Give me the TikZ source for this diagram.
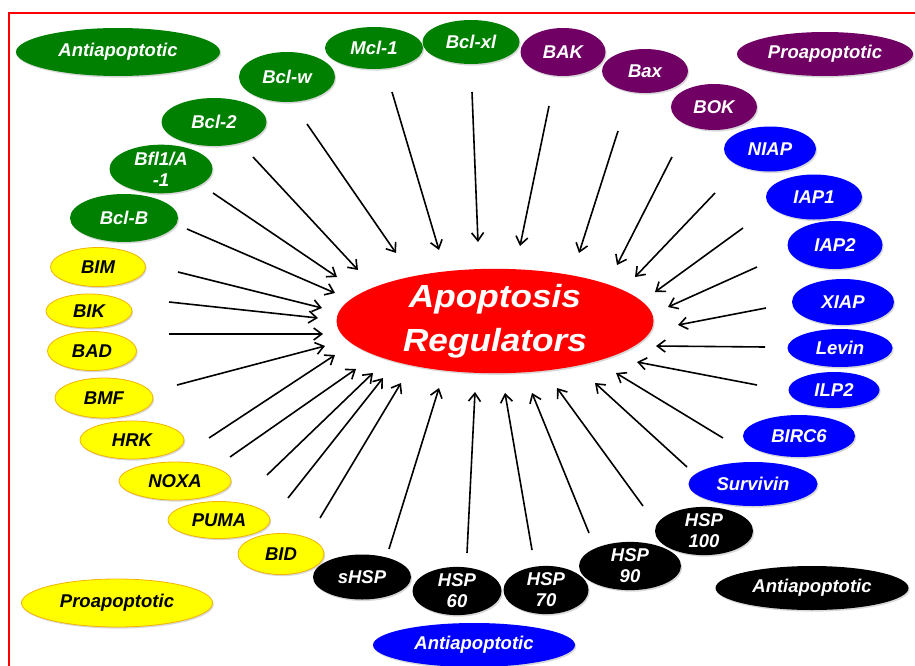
\documentclass[tikz,border=0pt]{standalone}
\usepackage{fontspec}
\usepackage{graphicx}
\setmainfont{Liberation Sans}
\usetikzlibrary{shapes.geometric,arrows.meta,shadows}
\definecolor{gr}{RGB}{0,128,0}
\definecolor{pu}{RGB}{112,0,100}
\definecolor{bl}{RGB}{0,0,255}
\definecolor{ye}{RGB}{255,255,0}
\definecolor{yb}{RGB}{240,180,0}
\definecolor{rd}{RGB}{255,0,0}
\begin{document}
\begin{tikzpicture}[x=1pt,y=-1pt,
  ell/.style={ellipse,inner sep=0pt,align=center,
    font=\bfseries\itshape\fontsize{18.5}{21}\selectfont,
    drop shadow={shadow xshift=1.2pt,shadow yshift=-1.6pt,opacity=0.3}},
  gn/.style={ell,fill=gr,text=white},
  pp/.style={ell,fill=pu,text=white},
  bu/.style={ell,fill=bl,text=white},
  bk/.style={ell,fill=black,text=white},
  yl/.style={ell,fill=ye,draw=yb,line width=0.8pt,text=black},
  sz/.style 2 args={minimum width=#1pt,minimum height=#2pt},
  arr/.style={draw=black,line width=1.6pt,-{Straight Barb[length=8pt,width=12pt,line width=1.6pt]}}
]
\useasboundingbox (0,0) rectangle (915,666);
\fill[white] (0,0) rectangle (915,666);
\draw[rd,line width=2pt] (9,670) -- (9,13) -- (918,13);

% green
\node[gn,sz={204}{48}] (antiG) at (118,52) {Antiapoptotic};
\node[gn,sz={108}{48}] (bclb) at (124,218) {Bcl-B};
\node[gn,sz={103}{46}] (bfl) at (161,169) {Bf\kern0pt l1/A\\-1};
\node[gn,sz={105}{48}] (bcl2) at (214,122) {Bcl-2};
\node[gn,sz={96}{50}] (bclw) at (287,77) {Bcl-w};
\node[gn,sz={98}{42}] (mcl) at (374,48) {Mcl-1};
\node[gn,sz={97}{44}] (bclxl) at (471,42) {Bcl-xl};
% purple
\node[pp,sz={85}{48}] (bak) at (563,52) {BAK};
\node[pp,sz={86}{44}] (bax) at (645,71) {Bax};
\node[pp,sz={86}{46}] (bok) at (714,107) {BOK};
\node[pp,sz={176}{44}] (proP) at (825,54) {Proapoptotic};
% blue
\node[bu,sz={92}{45}] (niap) at (770,149) {NIAP};
\node[bu,sz={96}{45}] (iap1) at (814,197) {IAP1};
\node[bu,sz={95}{48}] (iap2) at (835,245) {IAP2};
\node[bu,sz={102}{46}] (xiap) at (843,302) {XIAP};
\node[bu,sz={105}{38}] (levin) at (840,348) {Levin};
\node[bu,sz={91}{36}] (ilp2) at (834,390) {ILP2};
\node[bu,sz={112}{42}] (birc6) at (799,436) {BIRC6};
\node[bu,sz={129}{44}] (survivin) at (753,484) {Survivin};
\node[bu,sz={202}{44}] (antiB) at (474,645) {Antiapoptotic};
% black
\node[bk,sz={193}{44}] (antiK) at (812,588) {Antiapoptotic};
\node[bk,sz={98}{44}] (hsp100) at (704,531) {HSP\\100};
\node[bk,sz={102}{45}] (hsp90) at (630,566) {HSP\\90};
\node[bk,sz={89}{46}] (hsp60) at (457,591) {HSP\\60};
\node[bk,sz={85}{46}] (hsp70) at (546,590) {HSP\\70};
% yellow
\node[yl,sz={95}{39}] (bim) at (98,267) {BIM};
\node[yl,sz={86}{34}] (bik) at (89,311) {BIK};
\node[yl,sz={89}{39}] (bad) at (92,351) {BAD};
\node[yl,sz={98}{40}] (bmf) at (104,398) {BMF};
\node[yl,sz={104}{38}] (hrk) at (132,440) {HRK};
\node[yl,sz={112}{38}] (noxa) at (175,481) {NOXA};
\node[yl,sz={102}{37}] (puma) at (219,520) {PUMA};
\node[yl,sz={86}{41}] (bid) at (281,554) {BID};
\node[yl,sz={191}{48}] (proY) at (117,603) {Proapoptotic};
\node[bk,sz={98}{45}] (shsp) at (362,577) {sHSP};

% centre
\node[ell,fill=rd,text=white,sz={317}{104},
  font=\bfseries\itshape\fontsize{32}{44}\selectfont] (center) at (495,321)
  {\scalebox{1.1}[1]{Apoptosis}\\\scalebox{1.1}[1]{Regulators}};

% arrows
\foreach \n/\sx/\sy/\ex/\ey in {
  1/187/229/335/293, 2/213/193/337/277, 3/253/157/358/270, 4/307/124/396/253,
  5/392/92/439/250, 6/472/92/478/242, 7/549/106/520/246, 8/618/131/579/253,
  9/672/157/617/265, 10/715/193/635/277, 11/743/228/655/292, 12/757/267/668/307,
  13/766/308/678/325, 14/765/347/656/346, 15/757/385/637/362, 16/723/438/616/373,
  17/687/467/595/383, 18/643/506/557/388, 19/589/533/532/393, 20/532/550/505/393,
  21/467/553/475/392, 22/389/549/439/388, 23/320/518/401/383, 24/288/498/383/378,
  25/267/475/373/373, 26/230/457/356/369, 27/209/438/335/355, 28/177/385/325/346,
  29/169/334/323/334, 30/169/302/318/318, 31/178/272/322/308}{
  \coordinate (s\n) at (\sx,\sy);
  \coordinate (e\n) at (\ex,\ey);
  \draw[arr] (s\n) -- (e\n);
}
\end{tikzpicture}
\end{document}
